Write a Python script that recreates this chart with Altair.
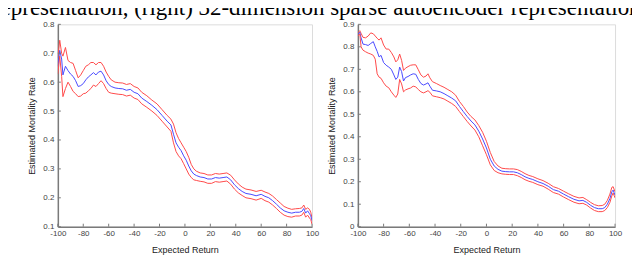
import altair as alt
import pandas as pd

CAPTION = "representation, (right) 32-dimension sparse autoencoder representation"
X_TITLE = "Expected Return"
Y_TITLE = "Estimated Mortality Rate"
X_TICKS = [-100, -80, -60, -40, -20, 0, 20, 40, 60, 80, 100]
Y_TICKS_LEFT = [0.1, 0.2, 0.3, 0.4, 0.5, 0.6, 0.7, 0.8]
Y_TICKS_RIGHT = [0, 0.1, 0.2, 0.3, 0.4, 0.5, 0.6, 0.7, 0.8, 0.9]

# ---- left panel ----
left_x = [-100, -98.5, -97, -96, -94, -92, -90, -88, -86, -84, -82, -80, -78, -76, -74, -72, -70, -68, -66, -64,
          -62, -60, -58, -55, -52, -49, -46, -43, -40, -37, -34, -30, -26, -22, -18, -14, -11, -9, -7, -5,
          -3, -1, 1, 3, 5, 7, 9, 12, 15, 18, 21, 24, 27, 30, 33, 36, 39, 42, 45, 48,
          52, 56, 60, 63, 66, 69, 72, 75, 78, 81, 84, 87, 90, 92, 93.5, 95, 96.5, 98, 99, 100]
left_mean = [0.655, 0.71, 0.68, 0.625, 0.655, 0.64, 0.628, 0.62, 0.605, 0.585, 0.588, 0.595, 0.608, 0.618, 0.625, 0.633, 0.625, 0.635, 0.638, 0.625,
             0.605, 0.592, 0.585, 0.58, 0.578, 0.577, 0.572, 0.575, 0.565, 0.56, 0.545, 0.533, 0.52, 0.505, 0.485, 0.465, 0.452, 0.42, 0.39, 0.375,
             0.363, 0.345, 0.33, 0.31, 0.293, 0.282, 0.277, 0.272, 0.27, 0.265, 0.265, 0.27, 0.268, 0.27, 0.272, 0.262, 0.245, 0.232, 0.222, 0.215,
             0.212, 0.207, 0.212, 0.205, 0.2, 0.19, 0.178, 0.165, 0.155, 0.15, 0.147, 0.15, 0.15, 0.153, 0.163, 0.147, 0.155, 0.145, 0.138, 0.12]
left_upper = [0.685, 0.745, 0.70, 0.69, 0.72, 0.675, 0.668, 0.665, 0.64, 0.615, 0.625, 0.64, 0.655, 0.66, 0.668, 0.668, 0.66, 0.668, 0.668, 0.655,
              0.635, 0.62, 0.608, 0.6, 0.598, 0.597, 0.592, 0.595, 0.585, 0.58, 0.565, 0.553, 0.538, 0.525, 0.505, 0.485, 0.472, 0.455, 0.425, 0.405,
              0.39, 0.375, 0.36, 0.34, 0.315, 0.3, 0.292, 0.286, 0.284, 0.279, 0.279, 0.284, 0.282, 0.284, 0.286, 0.278, 0.262, 0.248, 0.237, 0.23,
              0.227, 0.222, 0.226, 0.22, 0.215, 0.206, 0.194, 0.182, 0.17, 0.164, 0.16, 0.162, 0.163, 0.165, 0.175, 0.16, 0.165, 0.16, 0.15, 0.13]
left_lower = [0.628, 0.69, 0.62, 0.55, 0.578, 0.6, 0.585, 0.568, 0.56, 0.55, 0.552, 0.56, 0.562, 0.57, 0.578, 0.59, 0.585, 0.595, 0.605, 0.595,
              0.578, 0.565, 0.562, 0.56, 0.558, 0.557, 0.552, 0.555, 0.545, 0.54, 0.525, 0.513, 0.5, 0.485, 0.465, 0.445, 0.43, 0.39, 0.36, 0.345,
              0.335, 0.318, 0.3, 0.282, 0.27, 0.262, 0.26, 0.257, 0.255, 0.25, 0.25, 0.256, 0.254, 0.256, 0.258, 0.247, 0.23, 0.217, 0.208, 0.2,
              0.197, 0.192, 0.198, 0.19, 0.185, 0.175, 0.163, 0.15, 0.14, 0.135, 0.133, 0.137, 0.137, 0.14, 0.15, 0.133, 0.14, 0.13, 0.125, 0.108]

# ---- right panel ----
right_x = [-100, -98.5, -97.5, -96, -94, -92, -90, -88, -86.5, -85, -83.5, -82, -80, -78, -76, -74, -72, -70.5, -69, -67.5,
           -66, -64.5, -63, -61, -59, -57, -55, -53, -51, -49, -47, -45.5, -44, -42, -39, -36, -33, -30, -27, -24,
           -21, -18, -15, -12, -9, -6, -3, 0, 3, 6, 9, 12, 15, 18, 21, 24, 27, 30, 33, 36,
           40, 44, 48, 52, 56, 60, 64, 68, 72, 75, 78, 81, 84, 87, 90, 92, 94, 96, 97.5, 98.5, 100]
right_mean = [0.855, 0.865, 0.84, 0.812, 0.81, 0.806, 0.815, 0.823, 0.8, 0.78, 0.755, 0.762, 0.73, 0.718, 0.71, 0.7, 0.675, 0.655, 0.665, 0.71,
              0.69, 0.648, 0.663, 0.668, 0.675, 0.68, 0.678, 0.655, 0.637, 0.63, 0.635, 0.64, 0.625, 0.607, 0.604, 0.6, 0.592, 0.582, 0.572, 0.56,
              0.535, 0.512, 0.49, 0.47, 0.453, 0.425, 0.39, 0.35, 0.3, 0.27, 0.255, 0.247, 0.245, 0.244, 0.244, 0.24, 0.232, 0.222, 0.215, 0.21,
              0.2, 0.192, 0.18, 0.165, 0.158, 0.145, 0.133, 0.122, 0.115, 0.117, 0.108, 0.095, 0.085, 0.08, 0.08, 0.085, 0.1, 0.125, 0.155, 0.163, 0.14]
right_upper = [0.862, 0.872, 0.86, 0.842, 0.84, 0.848, 0.862, 0.858, 0.848, 0.838, 0.83, 0.84, 0.808, 0.79, 0.79, 0.775, 0.755, 0.733, 0.742, 0.768,
               0.74, 0.695, 0.705, 0.712, 0.718, 0.72, 0.72, 0.698, 0.675, 0.665, 0.67, 0.68, 0.662, 0.645, 0.637, 0.628, 0.62, 0.61, 0.6, 0.585,
               0.557, 0.535, 0.51, 0.49, 0.475, 0.45, 0.42, 0.38, 0.33, 0.29, 0.27, 0.26, 0.258, 0.257, 0.257, 0.254, 0.246, 0.236, 0.228, 0.223,
               0.213, 0.205, 0.193, 0.178, 0.17, 0.158, 0.146, 0.135, 0.128, 0.13, 0.12, 0.108, 0.098, 0.093, 0.094, 0.1, 0.117, 0.145, 0.175, 0.178, 0.155]
right_lower = [0.848, 0.858, 0.8, 0.785, 0.778, 0.772, 0.768, 0.762, 0.745, 0.68, 0.665, 0.66, 0.64, 0.625, 0.618, 0.6, 0.585, 0.575, 0.59, 0.655,
               0.635, 0.6, 0.608, 0.613, 0.617, 0.625, 0.622, 0.61, 0.6, 0.595, 0.6, 0.605, 0.598, 0.582, 0.578, 0.574, 0.568, 0.558, 0.548, 0.535,
               0.512, 0.49, 0.468, 0.448, 0.43, 0.4, 0.36, 0.32, 0.275, 0.25, 0.24, 0.235, 0.233, 0.232, 0.232, 0.227, 0.219, 0.209, 0.202, 0.197,
               0.187, 0.18, 0.167, 0.152, 0.145, 0.132, 0.12, 0.109, 0.102, 0.104, 0.096, 0.083, 0.072, 0.067, 0.067, 0.072, 0.085, 0.108, 0.137, 0.15, 0.128]

BLUE = "#4a4aff"
RED = "#ff4a4a"
AXIS_GRAY = "#7a7a7a"
SERIES = ["upper", "mean", "lower"]


def long_df(xs, mean, upper, lower):
    rows = []
    for name, vals in (("upper", upper), ("mean", mean), ("lower", lower)):
        for x, v in zip(xs, vals):
            rows.append({"x": x, "v": v, "s": name})
    return pd.DataFrame(rows)


def panel(df, ydom, yticks, w, h, caption=False):
    x_axis = alt.Axis(values=X_TICKS, labelExpr="'' + datum.value", title=X_TITLE,
                      ticks=False, grid=False, labelPadding=3, titlePadding=8,
                      labelFlush=False, labelOverlap=False)
    y_axis = alt.Axis(values=yticks, labelExpr="datum.value == 0 ? '0' : format(datum.value, '.1f')",
                      title=Y_TITLE, ticks=False, grid=False, labelPadding=4, titlePadding=6,
                      labelFlush=False, labelOverlap=False)
    xs = alt.Scale(domain=[-100, 100], nice=False, zero=False)
    ys = alt.Scale(domain=ydom, nice=False, zero=False)
    lines = alt.Chart(df).mark_line(strokeWidth=1, clip=True).encode(
        x=alt.X("x:Q", scale=xs, axis=x_axis),
        y=alt.Y("v:Q", scale=ys, axis=y_axis),
        color=alt.Color("s:N", scale=alt.Scale(domain=SERIES, range=[RED, BLUE, RED]), legend=None),
        order=alt.Order("x:Q"),
    )
    # inward tick marks (MATLAB style)
    xt = alt.Chart(pd.DataFrame({"x": X_TICKS})).mark_rule(color=AXIS_GRAY, strokeWidth=1).encode(
        x=alt.X("x:Q", scale=xs, axis=x_axis), y=alt.value(h), y2=alt.value(h - 3))
    yt = alt.Chart(pd.DataFrame({"v": yticks})).mark_rule(color=AXIS_GRAY, strokeWidth=1).encode(
        y=alt.Y("v:Q", scale=ys, axis=y_axis), x=alt.value(0), x2=alt.value(3))
    layers = [lines, xt, yt]
    if caption:
        cap = alt.Chart(pd.DataFrame({"t": [CAPTION]})).mark_text(
            align="left", baseline="alphabetic", font="Liberation Serif", fontSize=23, color="#000000"
        ).encode(text="t:N", x=alt.value(-65), y=alt.value(-9))
        layers.append(cap)
    return alt.layer(*layers).properties(width=w, height=h)


left = panel(long_df(left_x, left_mean, left_upper, left_lower), [0.1, 0.8], Y_TICKS_LEFT, 255, 203, caption=True)
right = panel(long_df(right_x, right_mean, right_upper, right_lower), [0, 0.9], Y_TICKS_RIGHT, 258, 203)

chart = alt.hconcat(left, right, spacing=46, bounds="flush").properties(
    padding={"left": -16, "top": -12, "right": -10, "bottom": 0}
).configure_view(
    stroke="#dcdcdc", strokeWidth=1
).configure_axis(
    domainColor=AXIS_GRAY, domainWidth=1.5,
    labelFont="Liberation Sans", labelFontSize=8, labelColor="#444444",
    titleFont="Liberation Sans", titleFontSize=9, titleFontWeight="normal", titleColor="#222222",
)

chart.save("out.html", embed_options={"renderer": "svg", "actions": False})
